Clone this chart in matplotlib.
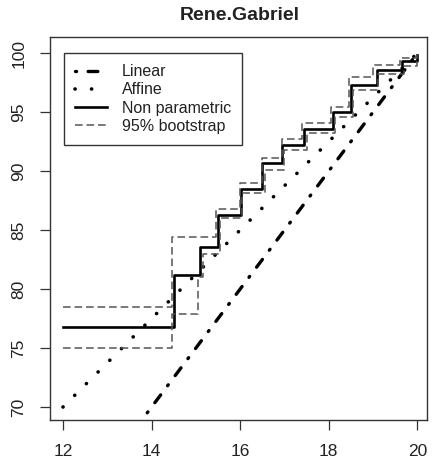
import matplotlib
matplotlib.use("Agg")
import matplotlib.pyplot as plt
import numpy as np

plt.rcParams['font.family'] = ['Liberation Sans', 'DejaVu Sans']
plt.rcParams['lines.scale_dashes'] = False

# Data
x_line = [12, 20]
linear_y = [60, 100]          # y = 5x
affine_y = [70, 100]          # y = 70 + 3.75 (x - 12)

np_x = [12, 14.5, 15.1, 15.5, 16.02, 16.5, 16.95, 17.45, 18.1, 18.5, 19.08, 19.65, 19.98, 20]
np_y = [76.8, 81.2, 83.6, 86.3, 88.5, 90.7, 92.2, 93.6, 95.0, 97.3, 98.6, 99.3, 99.8, 99.8]

up_x = [12, 14.45, 15.45, 16.0, 16.5, 16.95, 17.4, 18.05, 18.45, 19.0, 19.6, 20]
up_y = [78.5, 84.4, 86.8, 89.0, 91.1, 92.7, 94.1, 95.4, 98.0, 99.0, 99.6, 99.8]

lo_x = [12, 14.45, 15.05, 15.15, 15.55, 16.05, 16.55, 17.0, 17.5, 18.15, 18.55, 19.1, 19.7, 20]
lo_y = [75.0, 77.9, 81.0, 83.0, 86.0, 88.1, 90.1, 91.8, 93.2, 94.6, 96.9, 98.2, 98.9, 99.3]

xticks = [12, 14, 16, 18, 20]
yticks = [70, 75, 80, 85, 90, 95, 100]

fig = plt.figure(figsize=(4.32, 4.66), dpi=100)
ax = fig.add_axes([50/432, 1-420/466, 377/432, 383/466])

ax.plot(x_line, linear_y, color='black', lw=2.4, linestyle=(0, (0.8, 8.3, 7.0, 8.3)),
        dash_capstyle='round', label='Linear')
ax.plot(x_line, affine_y, color='black', lw=2.6, linestyle=(0, (0.1, 11.8)),
        dash_capstyle='round', label='Affine')
ax.step(np_x, np_y, where='post', color='black', lw=1.9, label='Non parametric')
ax.step(up_x, up_y, where='post', color='#555555', lw=1.1, linestyle=(0, (5.5, 2.8)),
        label='95% bootstrap')
ax.step(lo_x, lo_y, where='post', color='#555555', lw=1.1, linestyle=(0, (5.5, 2.8)))

ax.set_xlim(11.707, 20.217)
ax.set_ylim(68.9, 101.36)
ax.set_xticks(xticks)
ax.set_yticks(yticks)
ax.tick_params(direction='out', length=7, width=0.9, labelsize=12.5, color='#333333',
               labelcolor='#222222')
for lab in ax.get_yticklabels():
    lab.set_rotation(90)
    lab.set_va('center')
ax.tick_params(axis='x', pad=10)
ax.tick_params(axis='y', pad=10)
for s in ax.spines.values():
    s.set_linewidth(1.0)
    s.set_color('#333333')

leg = ax.legend(loc='upper left', bbox_to_anchor=(14/377, 1-16/383), borderaxespad=0,
                fontsize=11.5, frameon=True, fancybox=False, edgecolor='#333333',
                framealpha=1, handlelength=2.0, handletextpad=0.9, labelspacing=0.2,
                borderpad=0.7)
leg.get_frame().set_linewidth(1.0)
for t in leg.get_texts():
    t.set_color('#222222')

fig.text((172+307)/2/432, 1-15/466, 'Rene.Gabriel', ha='center', va='center',
         fontsize=14, fontweight='bold', color='#222222')

fig.savefig('out.png', dpi=100)
